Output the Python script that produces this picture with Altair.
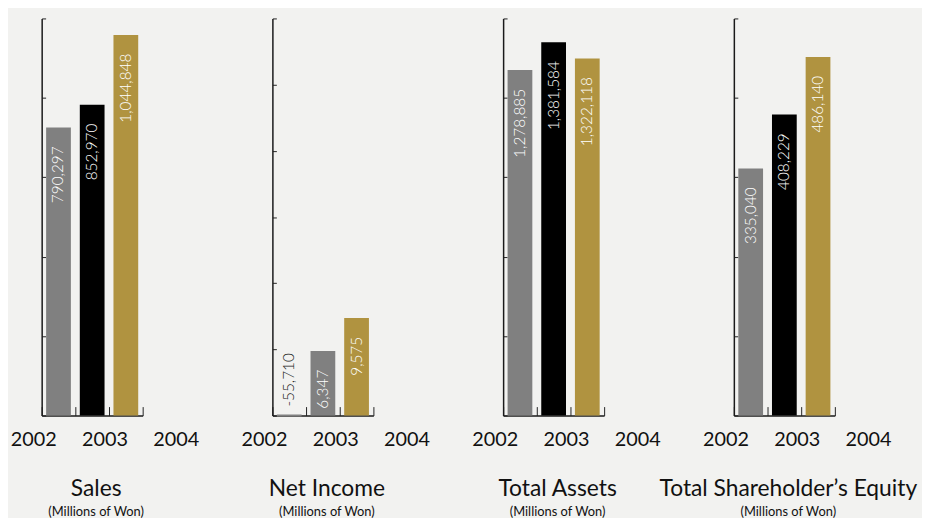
import altair as alt
import pandas as pd
import numpy as np

years = ["2002", "2003", "2004"]
sales = [790297, 852970, 1044848]
net_income = [-55710, 6347, 9575]
total_assets = [1278885, 1381584, 1322118]
equity = [335040, 408229, 486140]

sales_colors = ["#808080", "#000000", "#b09340"]
net_colors = ["#808080", "#808080", "#b09340"]
assets_colors = ["#808080", "#000000", "#b09340"]
equity_colors = ["#808080", "#000000", "#b09340"]

titles = ["Sales", "Net Income", "Total Assets", "Total Shareholder\u2019s Equity"]
subtitle = "(Millions of Won)"
y_max = [1090000, 39000, 1470000, 538500]
y_intervals = [5, 6, 5, 5]

W, H = 102, 401
FONT = "Lato"


def panel(values, colors, title, ymax, nint):
    df = pd.DataFrame({
        "year": years,
        "value": values,
        "label": [f"{v:,}" for v in values],
        "color": colors,
    })
    tick_vals = [float(t) for t in np.linspace(0, ymax, nint + 1)]
    xscale = alt.Scale(paddingInner=0, paddingOuter=0)
    yscale = alt.Scale(domain=[0, ymax], clamp=True, nice=False, zero=True)
    yaxis = alt.Axis(orient="right", offset=-W, labels=False, values=tick_vals,
                     tickSize=4, tickColor="#222222", tickWidth=1,
                     domainColor="#1a1a1a", domainWidth=1.5, grid=False)
    base = alt.Chart(df)

    bars = base.mark_bar(width={"band": 0.735}).encode(
        x=alt.X("year:N", sort=years, scale=xscale, title=None,
                axis=alt.Axis(orient="bottom", labelAngle=0, ticks=False, tickSize=0,
                              domainColor="#1a1a1a", domainWidth=1.5,
                              labelFont=FONT, labelFontSize=20, labelColor="#111111",
                              labelPadding=14,
                              labelOffset={"expr": "-25 + 76 * datum.index"})),
        y=alt.Y("value:Q", scale=yscale, title=None, axis=yaxis),
        color=alt.Color("color:N", scale=None, legend=None),
        stroke=alt.Stroke("color:N", scale=None, legend=None),
        strokeWidth=alt.condition("datum.value < 0", alt.value(2), alt.value(0)),
    )

    pos_text = base.transform_filter("datum.value >= 0").mark_text(
        angle=270, align="right", baseline="middle", dx=-19,
        font=FONT, fontSize=15.5, fontWeight=300, color="#ffffff",
    ).encode(
        x=alt.X("year:N", sort=years, title=None,
                axis=alt.Axis(orient="top", offset=-H, labels=False, domain=False,
                              ticks=True, tickBand="extent", tickSize=9,
                              tickColor="#222222", tickWidth=1)),
        y=alt.Y("value:Q", title=None, axis=yaxis),
        text="label:N",
    )

    neg_text = base.transform_filter("datum.value < 0").mark_text(
        angle=270, align="left", baseline="middle", dx=9,
        font=FONT, fontSize=15.5, fontWeight=300, color="#222222",
    ).encode(
        x=alt.X("year:N", sort=years, axis=None),
        y=alt.Y("value:Q", title=None, axis=yaxis),
        text="label:N",
    )

    return alt.layer(bars, pos_text, neg_text).resolve_axis(x="independent").properties(
        width=W, height=H,
        title=alt.TitleParams(
            text=title, subtitle=subtitle, orient="bottom", anchor="middle",
            frame="group", dx=4, offset=29,
            font=FONT, fontSize=23, fontWeight="normal", color="#111111",
            subtitleFont=FONT, subtitleFontSize=13, subtitleColor="#111111",
            subtitlePadding=5,
        ),
    )


panels = [
    panel(sales, sales_colors, titles[0], y_max[0], y_intervals[0]),
    panel(net_income, net_colors, titles[1], y_max[1], y_intervals[1]),
    panel(total_assets, assets_colors, titles[2], y_max[2], y_intervals[2]),
    panel(equity, equity_colors, titles[3], y_max[3], y_intervals[3]),
]

chart = alt.hconcat(*panels, spacing=131, bounds="flush").configure_view(
    stroke="transparent"
).properties(
    background="#f2f2f0",
    padding={"left": 1, "top": 7, "right": 4, "bottom": 0},
)

chart.save("out.html", embed_options={"renderer": "svg", "actions": False})
